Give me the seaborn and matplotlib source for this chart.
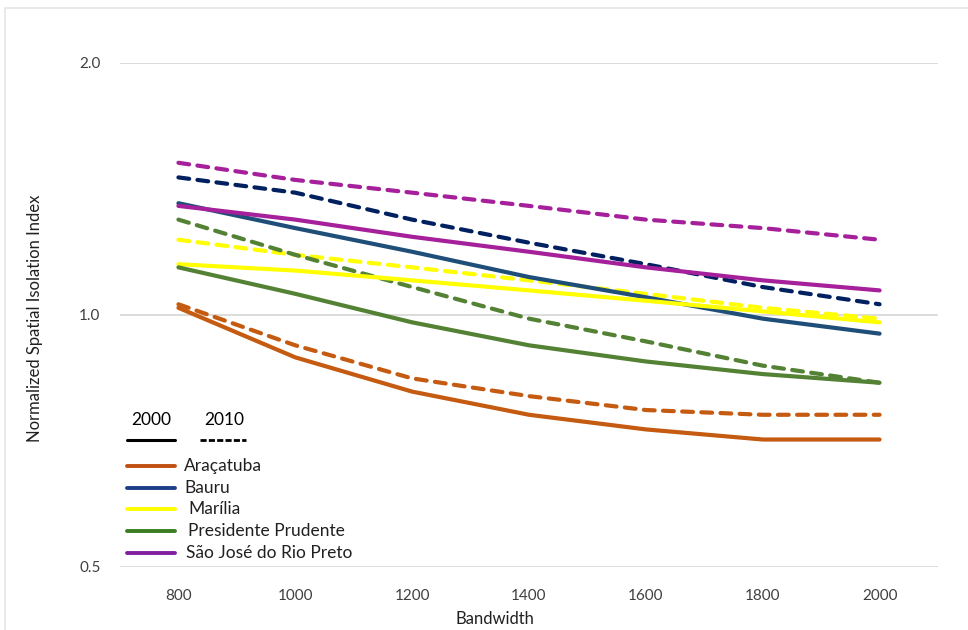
import numpy as np
import pandas as pd
import matplotlib
matplotlib.use("Agg")
import matplotlib.pyplot as plt
from matplotlib.lines import Line2D
from matplotlib.patches import Rectangle
from matplotlib.ticker import FixedLocator, FixedFormatter, NullLocator
import seaborn as sns

# Bandwidths (x) and normalized spatial isolation index per city, 2000 and 2010
bandwidth = [800, 1000, 1200, 1400, 1600, 1800, 2000]
cities = ["Araçatuba", "Bauru", "Marília", "Presidente Prudente", "São José do Rio Preto"]

aracatuba_2000 = [1.02, 0.89, 0.81, 0.76, 0.73, 0.71, 0.71]
aracatuba_2010 = [1.03, 0.92, 0.84, 0.80, 0.77, 0.76, 0.76]
bauru_2000 = [1.36, 1.27, 1.19, 1.11, 1.05, 0.99, 0.95]
bauru_2010 = [1.46, 1.40, 1.30, 1.22, 1.15, 1.08, 1.03]
marilia_2000 = [1.15, 1.13, 1.10, 1.07, 1.04, 1.01, 0.98]
marilia_2010 = [1.23, 1.18, 1.14, 1.10, 1.06, 1.02, 0.99]
prudente_2000 = [1.14, 1.06, 0.98, 0.92, 0.88, 0.85, 0.83]
prudente_2010 = [1.30, 1.18, 1.08, 0.99, 0.93, 0.87, 0.83]
riopreto_2000 = [1.35, 1.30, 1.24, 1.19, 1.14, 1.10, 1.07]
riopreto_2010 = [1.52, 1.45, 1.40, 1.35, 1.30, 1.27, 1.23]

y_ticks = [0.5, 1.0, 2.0]
y_tick_labels = ["0.5", "1.0", "2.0"]

series = {
    ("Araçatuba", "2000"): aracatuba_2000,
    ("Araçatuba", "2010"): aracatuba_2010,
    ("Bauru", "2000"): bauru_2000,
    ("Bauru", "2010"): bauru_2010,
    ("Marília", "2000"): marilia_2000,
    ("Marília", "2010"): marilia_2010,
    ("Presidente Prudente", "2000"): prudente_2000,
    ("Presidente Prudente", "2010"): prudente_2010,
    ("São José do Rio Preto", "2000"): riopreto_2000,
    ("São José do Rio Preto", "2010"): riopreto_2010,
}

rows = []
for (city, year), vals in series.items():
    for bw, v in zip(bandwidth, vals):
        rows.append({"city": city, "year": year, "bandwidth": bw, "index": v})
df = pd.DataFrame(rows)

line_colors = {
    ("Araçatuba", "2000"): "#C55A11", ("Araçatuba", "2010"): "#C55A11",
    ("Bauru", "2000"): "#1F4E79", ("Bauru", "2010"): "#002060",
    ("Marília", "2000"): "#FFFF00", ("Marília", "2010"): "#FFFF00",
    ("Presidente Prudente", "2000"): "#548235", ("Presidente Prudente", "2010"): "#548235",
    ("São José do Rio Preto", "2000"): "#A5209A", ("São José do Rio Preto", "2010"): "#A5209A",
}
legend_colors = ["#C0500F", "#1F3E8A", "#FFFF00", "#3A7D22", "#7F1F9F"]

sns.set_theme(style="white")
plt.rcParams["font.family"] = ["Lato", "DejaVu Sans"]

fig = plt.figure(figsize=(9.68, 6.3), dpi=100)
ax = fig.add_axes([120 / 968, 1 - 567 / 630, 818 / 968, 504 / 630])

# 2010 first so the solid 2000 lines sit on top where they cross
for year in ["2010", "2000"]:
    for city in cities:
        sub = df[(df.city == city) & (df.year == year)]
        sns.lineplot(data=sub, x="bandwidth", y="index", ax=ax,
                     color=line_colors[(city, year)], linewidth=3.0,
                     legend=False, estimator=None)
        ln = ax.lines[-1]
        if year == "2010":
            ln.set_dashes((2.6, 2.0))
            ln.set_dash_capstyle("round")
        ln.set_solid_capstyle("round")

ax.set_yscale("log", base=2)
ax.set_ylim(0.5, 2.0)
ax.set_xlim(700, 2100)
ax.yaxis.set_major_locator(FixedLocator(y_ticks))
ax.yaxis.set_major_formatter(FixedFormatter(y_tick_labels))
ax.yaxis.set_minor_locator(NullLocator())
ax.set_xticks(bandwidth)
ax.set_xticklabels([str(b) for b in bandwidth])

for s in ax.spines.values():
    s.set_visible(False)
ax.grid(False)
for t in y_ticks:
    ax.axhline(t, color="#D9D9D9", linewidth=1.3, zorder=0)

ax.tick_params(axis="both", length=0, labelsize=11, labelcolor="#404040")
ax.tick_params(axis="y", pad=14)
ax.tick_params(axis="x", pad=16)


def fx(px):
    return (px - 120) / 818


def fy(py):
    return (567 - py) / 504


ax.set_xlabel("Bandwidth", fontsize=12, color="#202020")
ax.set_ylabel("Normalized Spatial Isolation Index", fontsize=12, color="#202020")
ax.xaxis.set_label_coords(fx(495), fy(619))
ax.yaxis.set_label_coords(fx(35), fy(318))
ax.xaxis.label.set_va("center")
ax.yaxis.label.set_va("center")

# Year key: solid = 2000, dashed = 2010
ax.text(fx(151), fy(420), "2000", transform=ax.transAxes, ha="center", va="center",
        fontsize=12.5, color="black")
ax.text(fx(224), fy(420), "2010", transform=ax.transAxes, ha="center", va="center",
        fontsize=12.5, color="black")
ax.add_line(Line2D([fx(127), fx(175)], [fy(440), fy(440)], transform=ax.transAxes,
                   color="black", linewidth=2.2, clip_on=False))
ax.add_line(Line2D([fx(200), fx(246)], [fy(440), fy(440)], transform=ax.transAxes,
                   color="black", linewidth=2.0, dashes=(2.2, 0.8), clip_on=False))

# City key
row_y = [466, 488, 509, 531, 553]
text_x = [184, 184, 188, 188, 186]
for city, col, py, tx in zip(cities, legend_colors, row_y, text_x):
    ax.add_line(Line2D([fx(127), fx(175)], [fy(py), fy(py)], transform=ax.transAxes,
                       color=col, linewidth=2.8, clip_on=False))
    ax.text(fx(tx), fy(py), city, transform=ax.transAxes, ha="left", va="center",
            fontsize=12.5, color="#202020")

# Thin frame around the chart area
fig.patches.append(Rectangle((5 / 968, -0.05), 1.1, 1 - 8 / 630 + 0.05,
                             transform=fig.transFigure, fill=False,
                             edgecolor="#E6E6E6", linewidth=1.2))

fig.savefig("out.png", dpi=100)
